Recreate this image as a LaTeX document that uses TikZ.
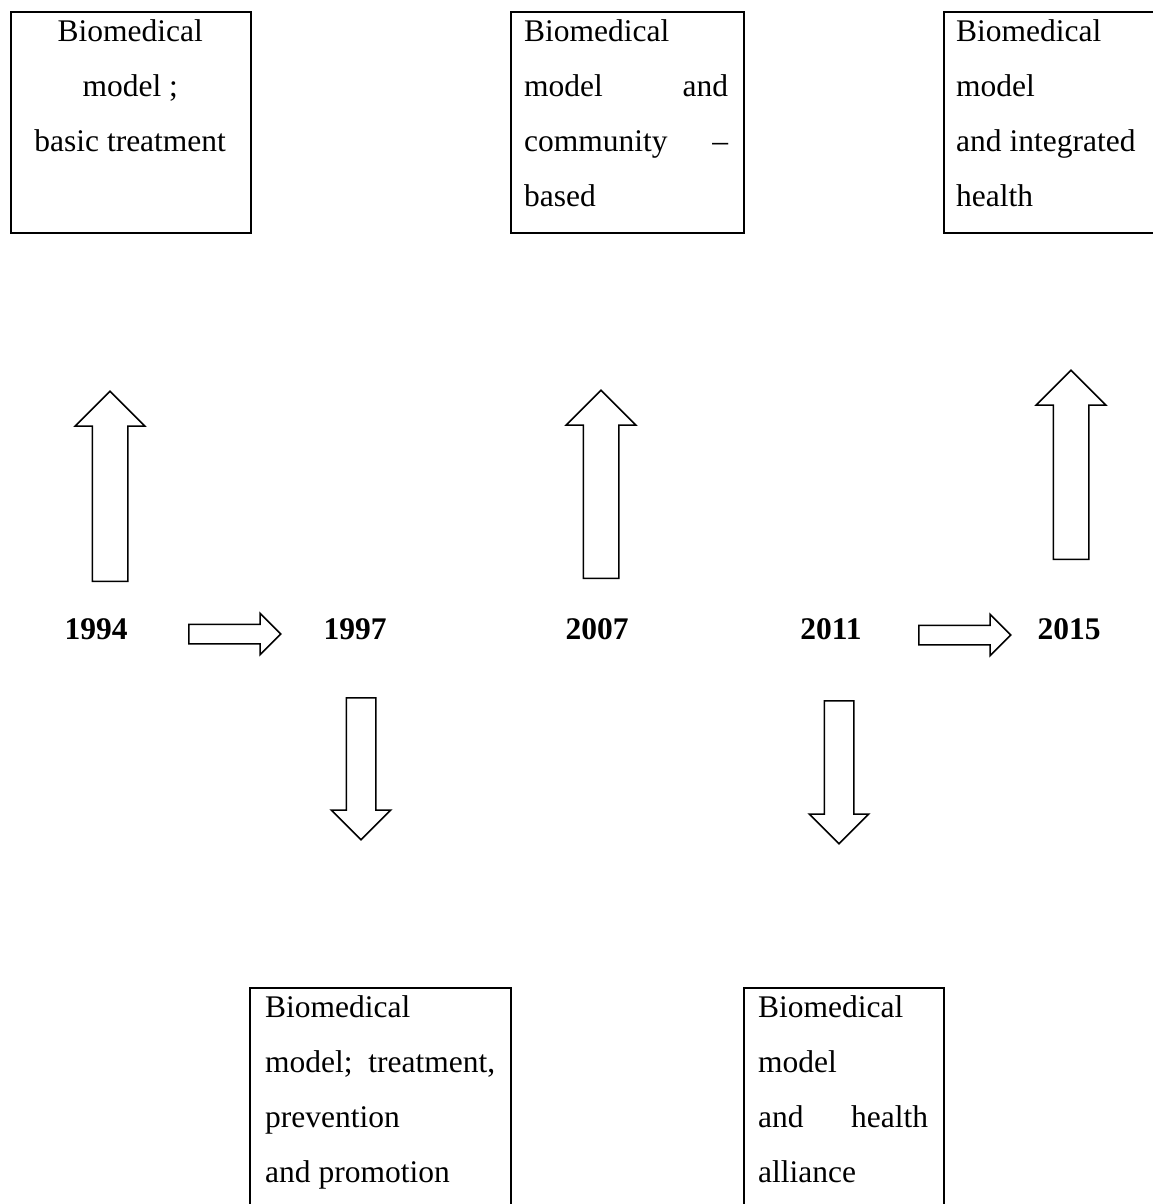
\documentclass[tikz,border=0pt]{standalone}
\usepackage{fontspec}
\setmainfont{Liberation Serif}
\usetikzlibrary{shapes.arrows}
\newcommand\boxfont{\fontsize{31.5}{55}\selectfont}
\newcommand\yearfont{\fontsize{31.5}{36}\selectfont\bfseries}
\begin{document}
\begin{tikzpicture}[x=1pt,y=-1pt,
  framebox/.style={draw,line width=1.6pt,rectangle,anchor=north west,inner sep=0pt},
  boxtext/.style={anchor=base west,inner sep=0pt,font=\boxfont},
  yearlabel/.style={anchor=base,inner sep=0pt,font=\yearfont},
  bigarrow/.style={single arrow,draw,line width=1.5pt,anchor=tail,inner xsep=0pt,
     inner ysep=17pt,single arrow head extend=17pt,single arrow tip angle=90},
  smallarrow/.style={single arrow,draw,line width=1.5pt,anchor=tail,inner xsep=0pt,
     inner ysep=14pt,single arrow head extend=15pt,single arrow tip angle=90},
  flatarrow/.style={single arrow,draw,line width=1.5pt,anchor=tail,inner xsep=0pt,
     inner ysep=9pt,single arrow head extend=11pt,single arrow tip angle=90}]
\useasboundingbox[fill=white] (0,0) rectangle (1152,1204);

% boxes
\node[framebox,minimum width=240pt,minimum height=221pt] (b1) at (10,11) {};
\node[framebox,minimum width=233pt,minimum height=221pt] (b2) at (510,11) {};
\node[framebox,minimum width=225pt,minimum height=221pt] (b3) at (943,11) {};
\node[framebox,minimum width=261pt,minimum height=240pt] (b4) at (249,987) {};
\node[framebox,minimum width=200pt,minimum height=240pt] (b5) at (743,987) {};

% box texts
\node[boxtext] (t1) at (10,42) {\parbox[t]{240pt}{\centering Biomedical\\ model ;\\ basic treatment}};
\node[boxtext] (t2) at (524,42) {\parbox[t]{204pt}{Biomedical\\ model\hfill and\\ community\hfill \textendash\\ based}};
\node[boxtext] (t3) at (956,42) {\parbox[t]{200pt}{Biomedical\\ model\\ and integrated\\ health}};
\node[boxtext] (t4) at (265,1017) {\parbox[t]{230pt}{Biomedical\\ model;\hfill treatment,\\ prevention\\ and promotion}};
\node[boxtext] (t5) at (758,1017) {\parbox[t]{170pt}{Biomedical\\ model\\ and\hfill health\\ alliance}};

% years
\node[yearlabel] (y1994) at (96,639) {1994};
\node[yearlabel] (y1997) at (355,639) {1997};
\node[yearlabel] (y2007) at (597,639) {2007};
\node[yearlabel] (y2011) at (831,639) {2011};
\node[yearlabel] (y2015) at (1069,639) {2015};

% block arrows
\node[bigarrow,minimum height=190pt,rotate=90] (a1) at (110,582) {};
\node[bigarrow,minimum height=188pt,rotate=90] (a3) at (601,579) {};
\node[bigarrow,minimum height=189pt,rotate=90] (a5) at (1071,560) {};
\node[smallarrow,minimum height=142pt,rotate=-90] (a2) at (361,697) {};
\node[smallarrow,minimum height=143pt,rotate=-90] (a4) at (839,700) {};
\node[flatarrow,minimum height=92pt] (h1) at (188,634) {};
\node[flatarrow,minimum height=92pt] (h2) at (918,635) {};
\end{tikzpicture}
\end{document}
